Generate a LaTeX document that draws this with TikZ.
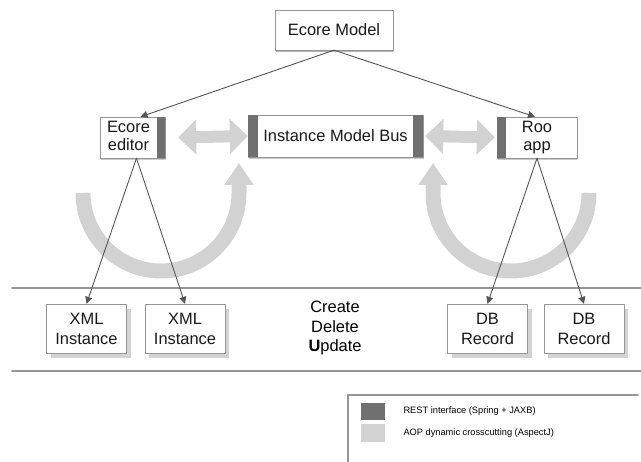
\documentclass[tikz,border=0pt]{standalone}
\usepackage{fontspec}
\setmainfont{Liberation Sans}
\usetikzlibrary{arrows,arrows.meta,shadows}
\definecolor{restgray}{RGB}{112,112,112}
\definecolor{aopgray}{RGB}{210,210,210}
\definecolor{boxgray}{RGB}{150,150,150}
\definecolor{txtgray}{RGB}{25,25,25}
\definecolor{linkgray}{RGB}{85,85,85}

\begin{document}
\begin{tikzpicture}
			[line cap=round,line join=round,>={Triangle[length=7bp,width=7bp]},x=1bp,y=1bp,
			every node/.style={font=\fontsize{16.5}{18}\selectfont,text=txtgray},
			modelbox/.style={draw=boxgray,fill=white,minimum width=118bp,minimum height=40bp,drop shadow={shadow xshift=1bp,shadow yshift=-2bp,opacity=0.6}},
			toolbox/.style={draw=boxgray,fill=white,align=center,inner sep=0pt,minimum height=41bp,drop shadow={shadow xshift=1bp,shadow yshift=-2bp,opacity=0.4}},
			instbox/.style={draw=boxgray,fill=white,align=center,inner sep=0pt,minimum width=80bp,minimum height=49bp,font=\fontsize{16.5}{20}\selectfont,drop shadow={shadow xshift=4bp,shadow yshift=-5bp,opacity=0.35}},
			link/.style={->,draw=linkgray,line width=0.9bp},
			rest/.style={fill=restgray},
			dblarrow/.style={draw=aopgray,line width=12bp,line cap=butt,{Triangle[width=34bp,length=18bp]}-{Triangle[width=34bp,length=18bp]}},
			loopy/.style={draw=aopgray,line width=15bp,line cap=butt,-{Triangle[width=28bp,length=22bp]}},
			sepline/.style={draw=boxgray,line width=1.6bp}]
			\useasboundingbox (0,0) rectangle (641,462);
			\node[modelbox] (model) at (334,432) {Ecore Model};
			\node[toolbox,minimum width=65bp] (editor) at (132.5,324.5) {\begin{tabular}{@{}c@{\hspace{8bp}}}Ecore\\editor\end{tabular}};
			\node[toolbox,minimum width=175bp,minimum height=42bp] (bus) at (335.5,326) {Instance Model Bus};
			\node[toolbox,minimum width=80bp] (roo) at (537,324.5) {Roo\\app};
			\fill[rest] ([xshift=-8bp]editor.north east) rectangle (editor.south east);
			\fill[rest] (bus.north west) rectangle ([xshift=10bp]bus.south west);
			\fill[rest] ([xshift=-10bp]bus.north east) rectangle (bus.south east);
			\fill[rest] (roo.north west) rectangle ([xshift=9bp]roo.south west);
			\draw[dblarrow] ([xshift=13bp]editor.east) -- (bus.west);
			\draw[dblarrow] ([xshift=2bp]bus.east) -- ([xshift=-2bp]roo.west);
			\draw[loopy] (83,269) arc[start angle=180,end angle=360,radius=78] -- (239,299);
			\draw[loopy] (589,269) arc[start angle=0,end angle=-180,radius=78] -- (433,299);
			\draw[sepline] (12,174) -- (641,174);
			\draw[sepline] (12,91) -- (641,91);
			\node[instbox] (xml1) at (86.5,133.5) {XML\\Instance};
			\node[instbox] (xml2) at (185,133.5) {XML\\Instance};
			\node[instbox] (db1) at (487.5,133.5) {DB\\Record};
			\node[instbox] (db2) at (584,133.5) {DB\\Record};
			\node[align=center,font=\fontsize{16.5}{20}\selectfont,text=black] (crud) at (335,134) {Create\\Delete\\\textbf{U}pdate};
			\draw[link] (model.south) -- ([xshift=8bp]editor.north);
			\draw[link] (model.south) -- ([xshift=-2bp]roo.north);
			\draw[link] ([xshift=4bp]editor.south) -- (xml1.north);
			\draw[link] ([xshift=4bp]editor.south) -- (xml2.north);
			\draw[link] (roo.south) -- (db1.north);
			\draw[link] (roo.south) -- (db2.north);
			\draw[draw=boxgray,line width=1.2bp] (348,0) -- (348,67) -- (638,67);
			\fill[rest] (361,42) rectangle (385,59);
			\fill[aopgray] (361,20) rectangle (385,38);
			\node[anchor=west,font=\fontsize{9.3}{11}\selectfont,text=black] (restkey) at (400,50.5) {REST interface (Spring + JAXB)};
			\node[anchor=west,font=\fontsize{9.3}{11}\selectfont,text=black] (aopkey) at (400,29) {AOP dynamic crosscutting (AspectJ)};
		\end{tikzpicture}
\end{document}
